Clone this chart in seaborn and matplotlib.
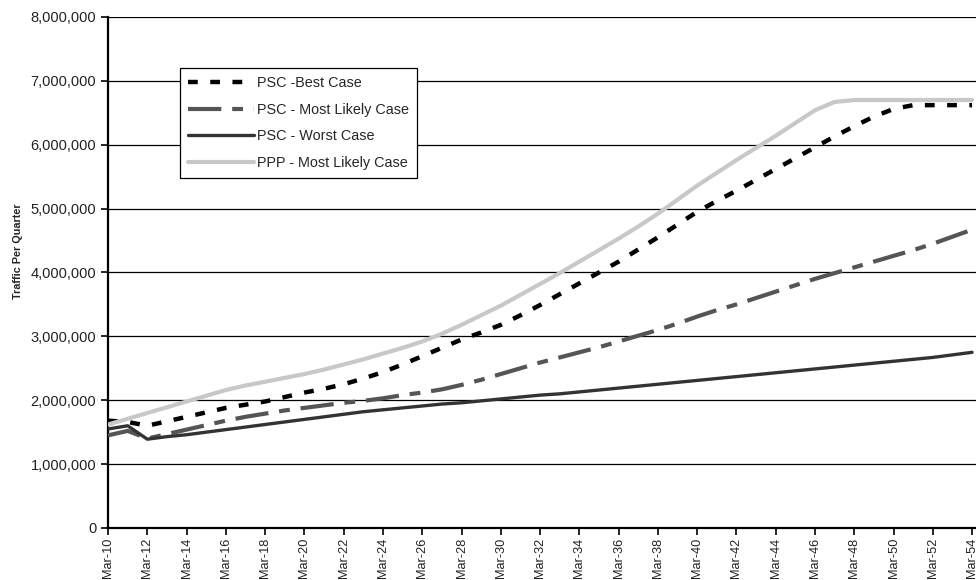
import matplotlib
matplotlib.use("Agg")
import matplotlib.pyplot as plt
import seaborn as sns
from matplotlib.ticker import FuncFormatter

# Quarterly traffic forecasts (millions), one point per March, 2010-2054
years = list(range(10, 55))
best_case = [1.68, 1.66, 1.60, 1.67, 1.74, 1.81, 1.88, 1.93, 1.98, 2.05,
             2.12, 2.18, 2.25, 2.34, 2.44, 2.56, 2.69, 2.82, 2.95, 3.06,
             3.18, 3.33, 3.49, 3.66, 3.83, 4.00, 4.17, 4.36, 4.55, 4.75,
             4.95, 5.12, 5.28, 5.45, 5.62, 5.79, 5.96, 6.13, 6.29, 6.44,
             6.56, 6.62, 6.62, 6.62, 6.62]
psc_likely = [1.45, 1.52, 1.40, 1.47, 1.54, 1.61, 1.68, 1.74, 1.79, 1.84,
              1.88, 1.92, 1.96, 1.99, 2.03, 2.08, 2.12, 2.17, 2.24, 2.32,
              2.41, 2.50, 2.59, 2.67, 2.75, 2.83, 2.92, 3.01, 3.10, 3.20,
              3.31, 3.41, 3.50, 3.60, 3.70, 3.80, 3.90, 3.99, 4.08, 4.17,
              4.26, 4.35, 4.45, 4.56, 4.67]
worst_case = [1.55, 1.60, 1.39, 1.43, 1.46, 1.50, 1.54, 1.58, 1.62, 1.66,
              1.70, 1.74, 1.78, 1.82, 1.85, 1.88, 1.91, 1.94, 1.96, 1.99,
              2.02, 2.05, 2.08, 2.10, 2.13, 2.16, 2.19, 2.22, 2.25, 2.28,
              2.31, 2.34, 2.37, 2.40, 2.43, 2.46, 2.49, 2.52, 2.55, 2.58,
              2.61, 2.64, 2.67, 2.71, 2.75]
ppp_likely = [1.62, 1.71, 1.80, 1.89, 1.98, 2.07, 2.16, 2.23, 2.29, 2.35,
              2.41, 2.48, 2.56, 2.64, 2.73, 2.82, 2.92, 3.04, 3.18, 3.33,
              3.48, 3.65, 3.82, 3.99, 4.17, 4.35, 4.53, 4.72, 4.92, 5.14,
              5.36, 5.56, 5.76, 5.95, 6.14, 6.34, 6.54, 6.67, 6.70, 6.70,
              6.70, 6.70, 6.70, 6.70, 6.70]

series_names = ["PSC -Best Case", "PSC - Most Likely Case",
                "PSC - Worst Case", "PPP - Most Likely Case"]
series_vals = [best_case, psc_likely, worst_case, ppp_likely]
tick_years = list(range(10, 55, 2))
tick_labels = [f"Mar-{y:02d}" for y in tick_years]

sns.set_style("white")
plt.rcParams['font.family'] = ['Liberation Sans', 'DejaVu Sans']

fig = plt.figure(figsize=(9.76, 5.8), dpi=100)
ax = fig.add_axes([0.1107, 0.0897, 0.8893, 0.881])

styles = [
    dict(color="black", lw=3.2, dashes=(2.2, 2.8)),
    dict(color="#555555", lw=3.0, dashes=(8, 2.6, 2.6, 2.6)),
    dict(color="#333333", lw=2.4, dashes=None),
    dict(color="#c8c8c8", lw=3.0, dashes=None),
]

for name, vals, st in zip(series_names, series_vals, styles):
    sns.lineplot(x=years, y=[v * 1e6 for v in vals], ax=ax, color=st["color"],
                 linewidth=st["lw"], label=name, zorder=3)
    if st["dashes"]:
        ax.lines[-1].set_dashes(st["dashes"])

ax.set_xlim(10, 54.2)
ax.set_ylim(0, 8e6)
ax.set_yticks([i * 1e6 for i in range(9)])
ax.yaxis.set_major_formatter(FuncFormatter(lambda v, p: f"{int(v):,}"))
ax.set_xticks(tick_years)
ax.set_xticklabels(tick_labels, rotation=90)
ax.grid(axis="y", color="black", lw=0.9)
ax.set_axisbelow(True)

for s in ["top", "right"]:
    ax.spines[s].set_visible(False)
for s in ["left", "bottom"]:
    ax.spines[s].set_color("black")
    ax.spines[s].set_linewidth(1.6)
ax.tick_params(axis="both", direction="out", length=5, width=1.2, color="black",
               labelsize=10.5, labelcolor="#222222", left=True, bottom=True)
ax.tick_params(axis="x", labelsize=9.2, pad=2)

ax.set_xlabel("")
ax.set_ylabel("Traffic Per Quarter", fontsize=7.8, fontweight="bold")
ax.yaxis.set_label_coords(-0.098, 0.542)

leg = ax.legend(loc="upper left", bbox_to_anchor=(0.083, 0.90), borderaxespad=0,
                fontsize=10.4, handlelength=4.6, handletextpad=0.2, labelspacing=0.88,
                fancybox=False, edgecolor="black", framealpha=1, borderpad=0.55)
leg.get_frame().set_linewidth(0.9)

fig.savefig("out.png", dpi=100)
